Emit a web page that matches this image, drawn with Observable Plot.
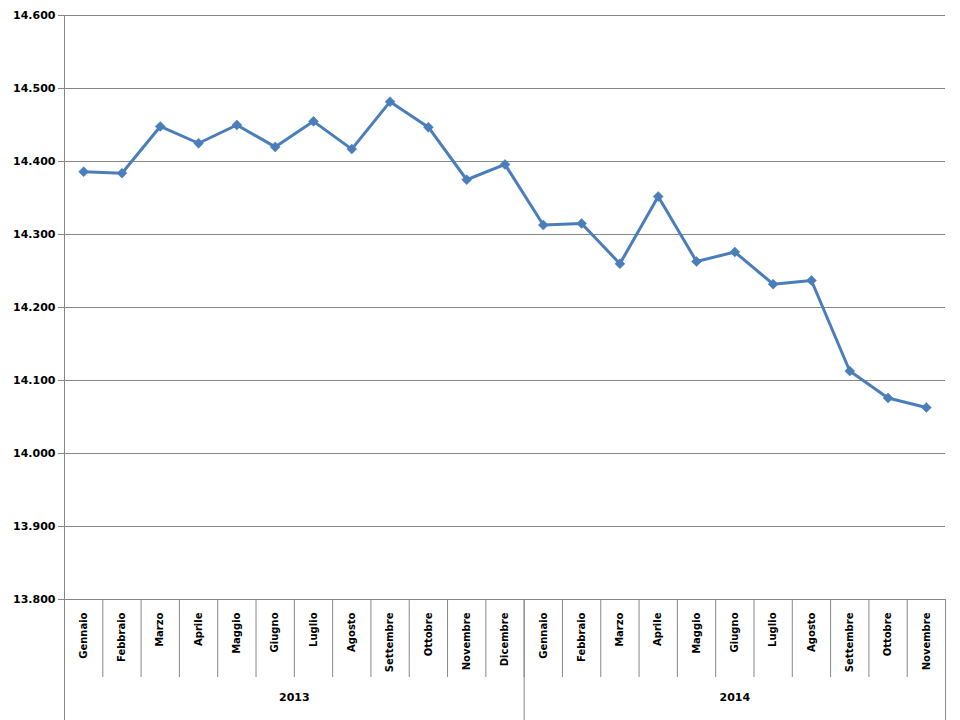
<!DOCTYPE html>
<html>
<head>
<meta charset="utf-8">
<script src="https://cdn.jsdelivr.net/npm/d3@7"></script>
<script src="https://cdn.jsdelivr.net/npm/@observablehq/plot@0.6"></script>
<style>
  html, body { margin: 0; padding: 0; background: #ffffff; }
  #chart svg { display: block; }
</style>
</head>
<body>
<div id="chart"></div>
<script>
const months2013 = ["Gennaio","Febbraio","Marzo","Aprile","Maggio","Giugno","Luglio","Agosto","Settembre","Ottobre","Novembre","Dicembre"];
const months2014 = ["Gennaio","Febbraio","Marzo","Aprile","Maggio","Giugno","Luglio","Agosto","Settembre","Ottobre","Novembre"];
const values2013 = [14386, 14384, 14448, 14425, 14450, 14420, 14455, 14417, 14482, 14447, 14375, 14396];
const values2014 = [14313, 14315, 14260, 14352, 14263, 14276, 14232, 14237, 14113, 14076, 14063];
const years = ["2013", "2014"];
const yTicks = [13800, 13900, 14000, 14100, 14200, 14300, 14400, 14500, 14600];

const data = [
  ...months2013.map((m, i) => ({year: years[0], month: m, value: values2013[i]})),
  ...months2014.map((m, i) => ({year: years[1], month: m, value: values2014[i]}))
].map((d, i) => ({...d, i}));

const n = data.length;
const separators = d3.range(n + 1).map(k => k - 0.5);
const yearGroups = years.map(y => {
  const idx = data.filter(d => d.year === y).map(d => d.i);
  return {year: y, start: d3.min(idx) - 0.5, end: d3.max(idx) + 0.5, mid: (d3.min(idx) + d3.max(idx)) / 2};
});
const yearBounds = [yearGroups[0].start, ...yearGroups.map(g => g.end)];

const itLocale = d3.formatLocale({decimal: ",", thousands: ".", grouping: [3], currency: ["€", ""]});
const fmt = itLocale.format(",");

const blue = "#4A7EBB";
const grid = "#878787";
const font = "DejaVu Sans, sans-serif";
const yMin = d3.min(yTicks), yMax = d3.max(yTicks);
const xLeft = -0.5, xRight = n - 0.5;

const chart = Plot.plot({
  width: 960,
  height: 720,
  marginLeft: 64,
  marginRight: 15,
  marginTop: 15,
  marginBottom: 7,
  style: {fontFamily: font, background: "#ffffff"},
  x: {type: "linear", domain: [xLeft, xRight], axis: null},
  y: {type: "linear", domain: [yMin, yMax], range: [599, 15], axis: null},
  marks: [
    Plot.ruleY(yTicks, {y: d => d, x1: xLeft, x2: xRight, stroke: grid, strokeWidth: 1}),
    Plot.ruleY(yTicks, {y: d => d, x1: xLeft, x2: xLeft, insetLeft: -6, stroke: grid}),
    Plot.text(yTicks, {y: d => d, x: xLeft, text: d => fmt(d), textAnchor: "end", dx: -9, fontWeight: "bold", fontSize: 11, fill: "#000"}),
    Plot.ruleX(separators.slice(1, -1), {x: d => d, y1: yMin, y2: yMin, insetBottom: -78, stroke: grid}),
    Plot.ruleX(yearBounds, {x: d => d, y1: yMin, stroke: grid}),
    Plot.ruleX([xLeft], {x: d => d, y1: yMax, stroke: grid}),
    Plot.text(data, {x: "i", y: yMin, text: "month", rotate: -90, textAnchor: "end", dy: 13, fontWeight: "bold", fontSize: 10, fill: "#000"}),
    Plot.text(yearGroups, {x: "mid", y: yMin, text: "year", dy: 98, fontWeight: "bold", fontSize: 11, fill: "#000"}),
    Plot.line(data, {x: "i", y: "value", stroke: blue, strokeWidth: 3, strokeLinejoin: "round"}),
    Plot.dot(data, {x: "i", y: "value", symbol: "diamond2", r: 4.5, fill: blue, stroke: blue, strokeWidth: 0.5})
  ]
});
document.getElementById("chart").appendChild(chart);
</script>
</body>
</html>
